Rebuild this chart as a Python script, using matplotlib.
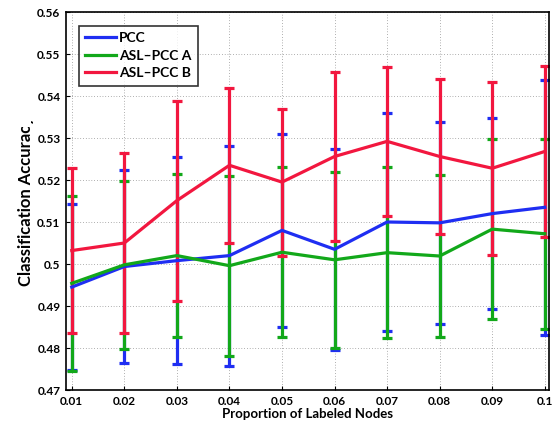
import numpy as np
import matplotlib
matplotlib.use('Agg')
import matplotlib.pyplot as plt
from matplotlib.patches import Rectangle

# proportion of labeled nodes
props = [0.01, 0.02, 0.03, 0.04, 0.05, 0.06, 0.07, 0.08, 0.09, 0.1]
prop_labels = ['0.01', '0.02', '0.03', '0.04', '0.05', '0.06', '0.07', '0.08', '0.09', '0.1']

pcc_mean = [0.4945, 0.4994, 0.5008, 0.5020, 0.5080, 0.5035, 0.5100, 0.5098, 0.5120, 0.5135]
pcc_err = [0.0198, 0.0230, 0.0246, 0.0262, 0.0229, 0.0239, 0.0259, 0.0240, 0.0227, 0.0303]

asla_mean = [0.4954, 0.4998, 0.5020, 0.4996, 0.5028, 0.5010, 0.5027, 0.5019, 0.5083, 0.5072]
asla_err = [0.0209, 0.0200, 0.0194, 0.0214, 0.0202, 0.0210, 0.0203, 0.0193, 0.0215, 0.0226]

aslb_mean = [0.5032, 0.5050, 0.5151, 0.5235, 0.5195, 0.5256, 0.5292, 0.5256, 0.5228, 0.5268]
aslb_err = [0.0197, 0.0214, 0.0238, 0.0185, 0.0175, 0.0202, 0.0177, 0.0185, 0.0206, 0.0203]

yticks = [0.47, 0.48, 0.49, 0.5, 0.51, 0.52, 0.53, 0.54, 0.55, 0.56]
ytick_labels = ['0.47', '0.48', '0.49', '0.5', '0.51', '0.52', '0.53', '0.54', '0.55', '0.56']

names = ['PCC', 'ASL\u2013PCC A', 'ASL\u2013PCC B']
colors = ['#1f2ef2', '#12a81a', '#f2173f']

plt.rcParams['font.family'] = ['Lato', 'DejaVu Sans']
plt.rcParams['font.weight'] = 'bold'

fig = plt.figure(figsize=(5.53, 4.25), dpi=100)
ax = fig.add_axes([66/553, 35/425, 483/553, 378/425])

handles = []
for m, e, c in zip([pcc_mean, asla_mean, aslb_mean], [pcc_err, asla_err, aslb_err], colors):
    cont = ax.errorbar(props, m, yerr=e, color=c, lw=2.3, elinewidth=2.3,
                       capsize=3.8, capthick=2.3)
    handles.append(cont[0])

ax.set_xlim(0.0089, 0.1008)
ax.set_ylim(0.47, 0.56)
ax.set_xticks(props)
ax.set_xticklabels(prop_labels, fontsize=8.5, fontweight='bold')
ax.set_yticks(yticks)
ax.set_yticklabels(ytick_labels, fontsize=8.5, fontweight='bold')
ax.tick_params(direction='in', length=3, width=0.8, pad=4)
ax.grid(True, linestyle=(0, (1, 3)), color='#666666', lw=0.5)
for s in ax.spines.values():
    s.set_linewidth(1.2)

ax.set_xlabel('Proportion of Labeled Nodes', fontsize=9.5, fontweight='bold', labelpad=1)
ax.set_ylabel('Classification Accuracy', fontsize=12, fontweight='bold', labelpad=2)

# the y label is cut off near the top in the original
fig.add_artist(Rectangle((5/553, 1 - 127/425), 26/553, 127/425,
                         transform=fig.transFigure, facecolor='white',
                         edgecolor='none', zorder=5))

leg = ax.legend(handles, names, loc='upper left', bbox_to_anchor=(0.027, 0.963),
                borderaxespad=0, fontsize=10, frameon=True, fancybox=False,
                edgecolor='black', handlelength=2.2, borderpad=0.45,
                labelspacing=0.4, handletextpad=0.25)
leg.get_frame().set_linewidth(1.2)
for t in leg.get_texts():
    t.set_fontweight('bold')

fig.savefig('out.png', dpi=100)
